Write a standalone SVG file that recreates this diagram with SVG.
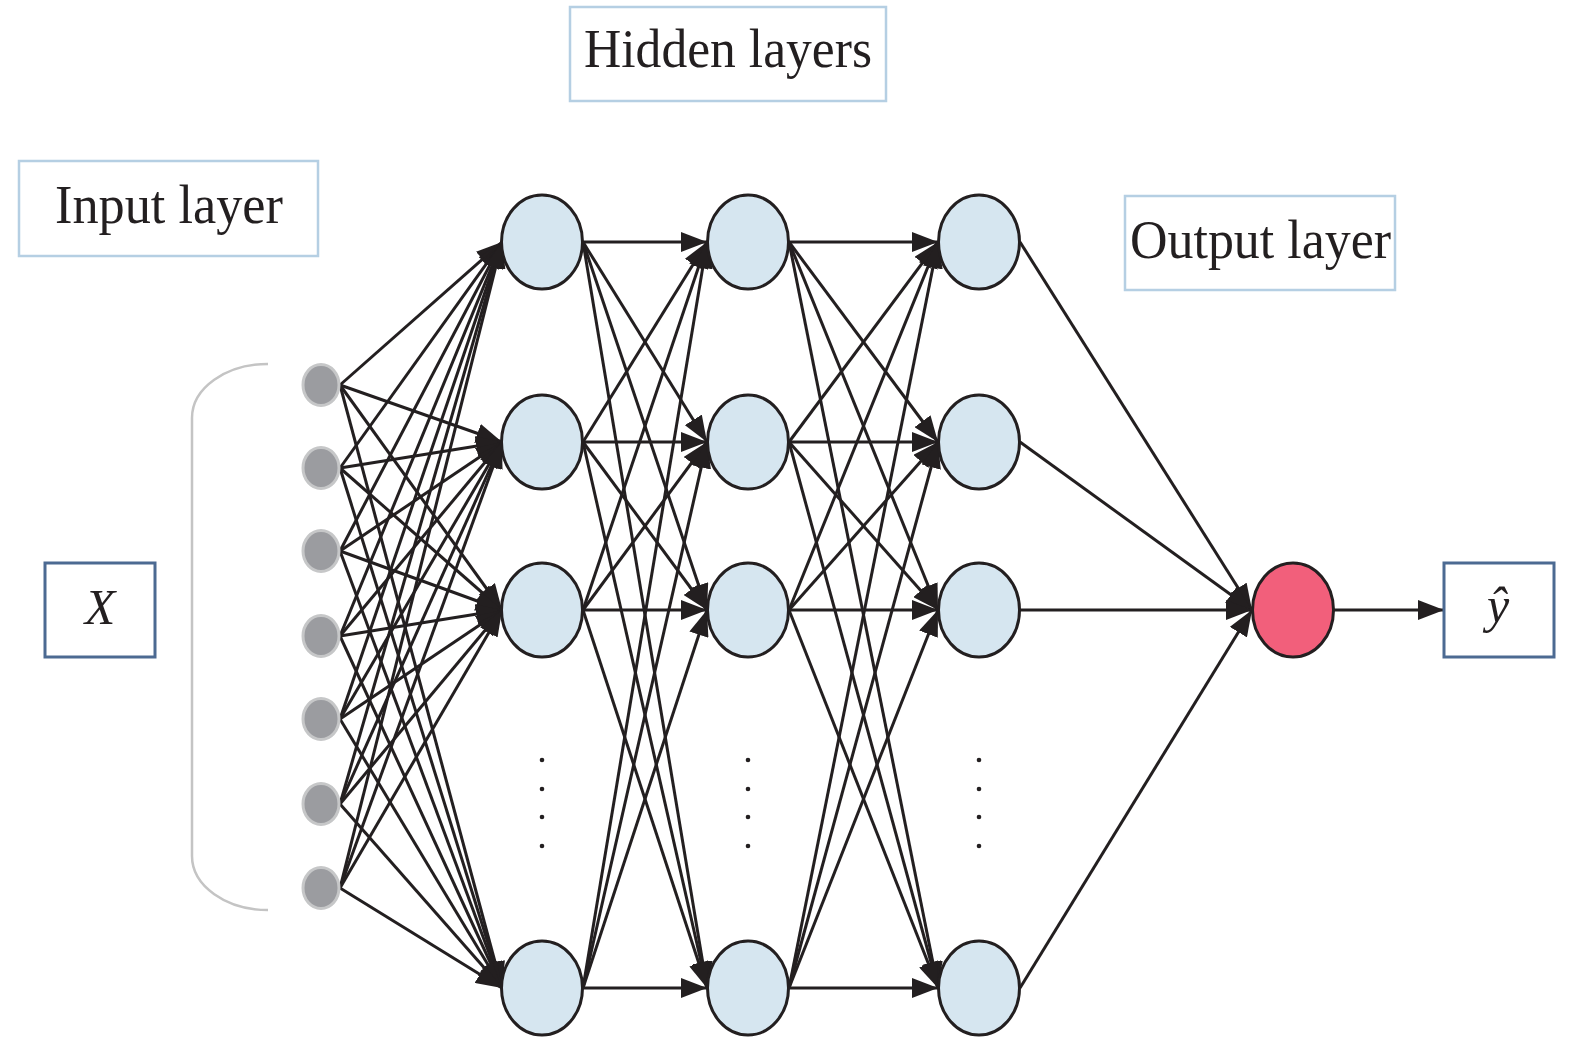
<svg xmlns="http://www.w3.org/2000/svg" width="1575" height="1043" viewBox="0 0 1575 1043">
<style>
.lbl{fill:#fff;stroke:#b5cfe3;stroke-width:2.5}
.io{fill:#fff;stroke:#4c6a92;stroke-width:3}
.t{font-family:"Liberation Serif","Times New Roman",serif;font-size:54px;fill:#231f20}
.ti{font-family:"Liberation Serif","Times New Roman",serif;font-size:50px;font-style:italic;fill:#231f20}
.h{fill:#d6e6f0;stroke:#231f20;stroke-width:3}
.in{fill:#9b9ca0;stroke:#c6c7c8;stroke-width:3}
.e{fill:none;stroke:#231f20;stroke-width:3;marker-end:url(#ah)}
.dot{fill:#231f20}
</style>
<defs>
<marker id="ah" markerUnits="userSpaceOnUse" markerWidth="26" markerHeight="20" viewBox="0 0 26 20" refX="26" refY="10" orient="auto">
<path d="M0,0 L26,10 L0,20 z" fill="#231f20"/>
</marker>
</defs>
<rect width="1575" height="1043" fill="#fff"/>

<g id="label-hidden"><rect class="lbl" x="570" y="7" width="316" height="94"/><text class="t" x="584" y="67" textLength="288" lengthAdjust="spacingAndGlyphs">Hidden layers</text></g>
<g id="label-input"><rect class="lbl" x="19" y="161" width="299" height="95"/><text class="t" x="55" y="223" textLength="228" lengthAdjust="spacingAndGlyphs">Input layer</text></g>
<g id="label-output"><rect class="lbl" x="1125" y="196" width="270" height="94"/><text class="t" x="1130" y="258" textLength="261" lengthAdjust="spacingAndGlyphs">Output layer</text></g>

<g id="bracket"><path d="M268 364 A76 54 0 0 0 192 418 L192 856 A76 54 0 0 0 268 910" fill="none" stroke="#c4c4c4" stroke-width="2.5"/></g>

<g id="connectors">
<path class="e" d="M340 385L502 242"/><path class="e" d="M340 385L502 442"/><path class="e" d="M340 385L502 610"/><path class="e" d="M340 385L502 988"/>
<path class="e" d="M340 468L502 242"/><path class="e" d="M340 468L502 442"/><path class="e" d="M340 468L502 610"/><path class="e" d="M340 468L502 988"/>
<path class="e" d="M340 551L502 242"/><path class="e" d="M340 551L502 442"/><path class="e" d="M340 551L502 610"/><path class="e" d="M340 551L502 988"/>
<path class="e" d="M340 636L502 242"/><path class="e" d="M340 636L502 442"/><path class="e" d="M340 636L502 610"/><path class="e" d="M340 636L502 988"/>
<path class="e" d="M340 719L502 242"/><path class="e" d="M340 719L502 442"/><path class="e" d="M340 719L502 610"/><path class="e" d="M340 719L502 988"/>
<path class="e" d="M340 804L502 242"/><path class="e" d="M340 804L502 442"/><path class="e" d="M340 804L502 610"/><path class="e" d="M340 804L502 988"/>
<path class="e" d="M340 888L502 242"/><path class="e" d="M340 888L502 442"/><path class="e" d="M340 888L502 610"/><path class="e" d="M340 888L502 988"/>

<path class="e" d="M583 242L707 242"/><path class="e" d="M583 242L707 442"/><path class="e" d="M583 242L707 610"/><path class="e" d="M583 242L707 988"/>
<path class="e" d="M583 442L707 242"/><path class="e" d="M583 442L707 442"/><path class="e" d="M583 442L707 610"/><path class="e" d="M583 442L707 988"/>
<path class="e" d="M583 610L707 242"/><path class="e" d="M583 610L707 442"/><path class="e" d="M583 610L707 610"/><path class="e" d="M583 610L707 988"/>
<path class="e" d="M583 988L707 242"/><path class="e" d="M583 988L707 442"/><path class="e" d="M583 988L707 610"/><path class="e" d="M583 988L707 988"/>

<path class="e" d="M789 242L938 242"/><path class="e" d="M789 242L938 442"/><path class="e" d="M789 242L938 610"/><path class="e" d="M789 242L938 988"/>
<path class="e" d="M789 442L938 242"/><path class="e" d="M789 442L938 442"/><path class="e" d="M789 442L938 610"/><path class="e" d="M789 442L938 988"/>
<path class="e" d="M789 610L938 242"/><path class="e" d="M789 610L938 442"/><path class="e" d="M789 610L938 610"/><path class="e" d="M789 610L938 988"/>
<path class="e" d="M789 988L938 242"/><path class="e" d="M789 988L938 442"/><path class="e" d="M789 988L938 610"/><path class="e" d="M789 988L938 988"/>

<path class="e" d="M1020 242L1252 610"/><path class="e" d="M1020 442L1252 610"/><path class="e" d="M1020 610L1252 610"/><path class="e" d="M1020 988L1252 610"/>
<path class="e" d="M1334 610L1444 610"/>
</g>

<g id="input-nodes">
<ellipse class="in" cx="321" cy="385" rx="18" ry="20.5"/>
<ellipse class="in" cx="321" cy="468" rx="18" ry="20.5"/>
<ellipse class="in" cx="321" cy="551" rx="18" ry="20.5"/>
<ellipse class="in" cx="321" cy="636" rx="18" ry="20.5"/>
<ellipse class="in" cx="321" cy="719" rx="18" ry="20.5"/>
<ellipse class="in" cx="321" cy="804" rx="18" ry="20.5"/>
<ellipse class="in" cx="321" cy="888" rx="18" ry="20.5"/>
</g>

<g id="hidden1">
<ellipse class="h" cx="542" cy="242" rx="40.5" ry="47"/>
<ellipse class="h" cx="542" cy="442" rx="40.5" ry="47"/>
<ellipse class="h" cx="542" cy="610" rx="40.5" ry="47"/>
<ellipse class="h" cx="542" cy="988" rx="40.5" ry="47"/>
</g>
<g id="hidden2">
<ellipse class="h" cx="748" cy="242" rx="40.5" ry="47"/>
<ellipse class="h" cx="748" cy="442" rx="40.5" ry="47"/>
<ellipse class="h" cx="748" cy="610" rx="40.5" ry="47"/>
<ellipse class="h" cx="748" cy="988" rx="40.5" ry="47"/>
</g>
<g id="hidden3">
<ellipse class="h" cx="979" cy="242" rx="40.5" ry="47"/>
<ellipse class="h" cx="979" cy="442" rx="40.5" ry="47"/>
<ellipse class="h" cx="979" cy="610" rx="40.5" ry="47"/>
<ellipse class="h" cx="979" cy="988" rx="40.5" ry="47"/>
</g>

<g id="dots">
<circle class="dot" cx="542" cy="760" r="2.3"/><circle class="dot" cx="542" cy="789" r="2.3"/><circle class="dot" cx="542" cy="817" r="2.3"/><circle class="dot" cx="542" cy="846" r="2.3"/>
<circle class="dot" cx="748" cy="760" r="2.3"/><circle class="dot" cx="748" cy="789" r="2.3"/><circle class="dot" cx="748" cy="817" r="2.3"/><circle class="dot" cx="748" cy="846" r="2.3"/>
<circle class="dot" cx="979" cy="760" r="2.3"/><circle class="dot" cx="979" cy="789" r="2.3"/><circle class="dot" cx="979" cy="817" r="2.3"/><circle class="dot" cx="979" cy="846" r="2.3"/>
</g>

<g id="output-node"><ellipse cx="1293" cy="610" rx="40.5" ry="47" fill="#f25f7b" stroke="#231f20" stroke-width="3"/></g>

<g id="x-box"><rect class="io" x="45" y="563" width="110" height="94"/><text class="ti" x="100" y="624" text-anchor="middle">X</text></g>
<g id="yhat-box"><rect class="io" x="1444" y="563" width="110" height="94"/><text class="ti" x="1498" y="622" text-anchor="middle">ŷ</text></g>
</svg>
